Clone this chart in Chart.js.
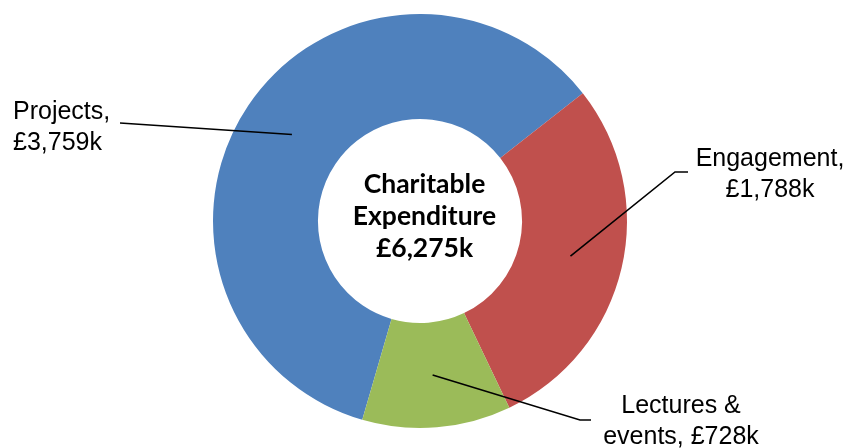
<!DOCTYPE html>
<html>
<head>
<meta charset="utf-8">
<script src="https://cdn.jsdelivr.net/npm/chart.js@4.4.0/dist/chart.umd.min.js"></script>
<style>
html,body{margin:0;padding:0;background:#fff;}
#wrap{width:847px;height:448px;position:relative;}
</style>
</head>
<body>
<div id="wrap"><canvas id="c" width="847" height="448"></canvas></div>
<script>
const categories = ["Projects", "Engagement", "Lectures & events"];
const values = [3759, 1788, 728];
const valueLabels = ["£3,759k", "£1,788k", "£728k"];
const colors = ["#4F81BD", "#C0504D", "#9BBB59"];
const centerLines = ["Charitable", "Expenditure", "£6,275k"];

// label layout (positions only)
const labelLayout = [
  {lines: ["Projects,", "£3,759k"], x: 13, y: 119, align: "left", path: [[120,123]]},
  {lines: ["Engagement,", "£1,788k"], x: 770, y: 166, align: "center", path: [[688,172],[675,172]]},
  {lines: ["Lectures &", "events, £728k"], x: 681, y: 413, align: "center", path: [[591,420],[580,420]]}
];

const leaderPlugin = {
  id: 'leaders',
  afterDraw(chart) {
    const ctx = chart.ctx;
    const meta = chart.getDatasetMeta(0);
    ctx.save();
    meta.data.forEach((arc, i) => {
      const p = arc.getCenterPoint();
      const L = labelLayout[i];
      ctx.beginPath();
      ctx.strokeStyle = '#000';
      ctx.lineWidth = 1.6;
      ctx.moveTo(L.path[0][0], L.path[0][1]);
      for (let k = 1; k < L.path.length; k++) ctx.lineTo(L.path[k][0], L.path[k][1]);
      ctx.lineTo(p.x, p.y);
      ctx.stroke();
      ctx.fillStyle = '#000';
      ctx.font = '25px "Liberation Sans", Arial, sans-serif';
      ctx.textAlign = L.align;
      ctx.textBaseline = 'alphabetic';
      L.lines.forEach((t, j) => ctx.fillText(t, L.x, L.y + j * 31));
    });
    // center text
    const a = meta.data[0];
    ctx.font = 'bold 26.5px Lato, "Open Sans", sans-serif';
    ctx.textAlign = 'center';
    ctx.fillStyle = '#000';
    centerLines.forEach((t, j) => ctx.fillText(t, a.x + 4.5, 193 + j * 32));
    ctx.restore();
  }
};

new Chart(document.getElementById('c'), {
  type: 'doughnut',
  data: {
    labels: categories,
    datasets: [{
      data: values,
      backgroundColor: colors,
      borderWidth: 0,
      hoverOffset: 0
    }]
  },
  options: {
    responsive: false,
    animation: false,
    rotation: 196.2,
    cutout: '49.3%',
    layout: {padding: {top: 14, bottom: 20, left: 0, right: 7}},
    plugins: {legend: {display: false}, tooltip: {enabled: false}}
  },
  plugins: [leaderPlugin]
});
</script>
</body>
</html>
